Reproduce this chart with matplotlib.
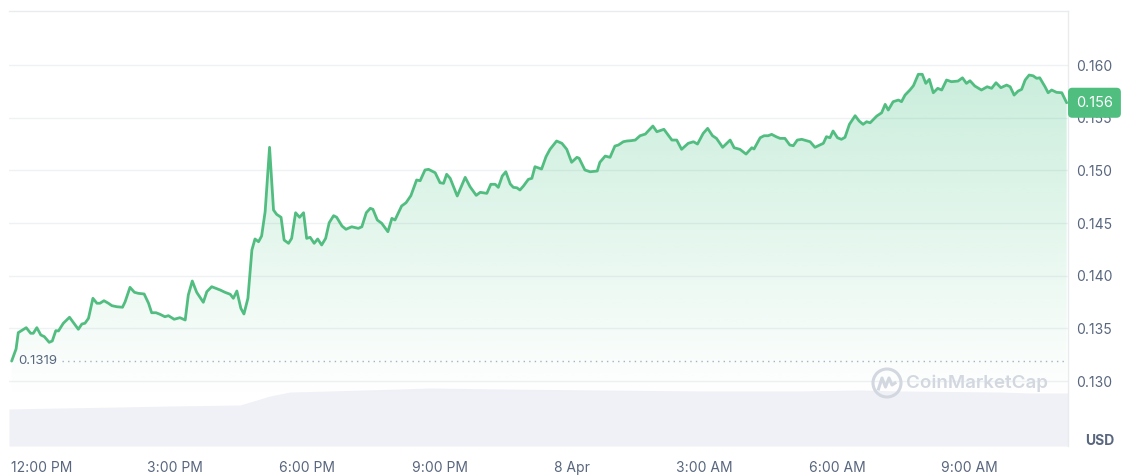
import numpy as np
import matplotlib
matplotlib.use("Agg")
import matplotlib.pyplot as plt
from matplotlib.patches import PathPatch, Circle
from matplotlib.lines import Line2D
from matplotlib.transforms import blended_transform_factory

plt.rcParams['font.family'] = ['Inter', 'DejaVu Sans']

# ---- data (hours relative to 12:00 PM, 7 Apr) ----
hours = [-0.69, -0.59, -0.54, -0.36, -0.26, -0.20, -0.12, -0.03, 0.05, 0.16,
         0.23, 0.31, 0.37, 0.48, 0.62, 0.72, 0.82, 0.90, 0.97, 1.05,
         1.15, 1.24, 1.31, 1.40, 1.50, 1.58, 1.69, 1.82, 1.88, 1.99,
         2.09, 2.18, 2.31, 2.41, 2.48, 2.58, 2.67, 2.78, 2.86, 2.99, 3.12,
         3.24, 3.31, 3.40, 3.50, 3.65, 3.73, 3.84, 4.03, 4.14, 4.26,
         4.33, 4.41, 4.50, 4.57, 4.66, 4.75, 4.82, 4.90, 4.97, 5.05,
         5.15, 5.24, 5.31, 5.41, 5.48, 5.58, 5.65, 5.74, 5.83, 5.92,
         5.99, 6.07, 6.16, 6.24, 6.33, 6.42, 6.50, 6.60, 6.67, 6.79, 6.88,
         7.01, 7.16, 7.24, 7.34, 7.43, 7.49, 7.59, 7.69, 7.83, 7.92,
         7.99, 8.14, 8.24, 8.35, 8.48, 8.56, 8.67, 8.75, 8.90, 9.01,
         9.09, 9.16, 9.24, 9.40, 9.58, 9.69, 9.83, 9.92, 10.07, 10.16,
         10.26, 10.33, 10.42, 10.50, 10.60,
         10.67, 10.75, 10.82, 10.90, 11.01, 11.09, 11.16, 11.31, 11.41, 11.50,
         11.65, 11.77, 11.88, 11.99, 12.11, 12.16, 12.29, 12.41, 12.57, 12.63,
         12.75, 12.86, 12.97, 13.05, 13.16, 13.24, 13.33, 13.43, 13.54, 13.66,
         13.73, 13.83, 13.92, 14.08, 14.26, 14.37, 14.48, 14.63, 14.75,
         14.84, 14.97, 15.07, 15.18, 15.27, 15.41, 15.58, 15.67, 15.80, 15.94,
         16.07, 16.12, 16.26, 16.35, 16.44, 16.52, 16.62, 16.71, 16.82, 16.93,
         17.01, 17.10, 17.20, 17.31, 17.39, 17.50, 17.61, 17.69, 17.76, 17.84,
         17.91, 18.01, 18.10, 18.18, 18.28, 18.41, 18.50, 18.59, 18.67, 18.75,
         18.90, 19.01, 19.09, 19.16, 19.27, 19.39, 19.46, 19.54, 19.65, 19.73,
         19.84, 19.93, 20.01, 20.09, 20.18, 20.28, 20.37, 20.48, 20.59, 20.74,
         20.84, 20.93, 21.01, 21.12, 21.27, 21.40, 21.50, 21.60, 21.71, 21.84,
         21.92, 22.01, 22.10, 22.18, 22.26, 22.35, 22.44, 22.52, 22.59, 22.71,
         22.78, 22.86, 22.97, 23.09, 23.20]

price = [0.1319, 0.13305, 0.1346, 0.13507, 0.13454, 0.13454, 0.13507, 0.13438, 0.13422, 0.13368,
         0.13381, 0.13479, 0.13476, 0.13549, 0.13606, 0.13549, 0.13492, 0.13542, 0.13549, 0.13596,
         0.13786, 0.13739, 0.13739, 0.13763, 0.13739, 0.13716, 0.13706, 0.13701, 0.13754, 0.1389,
         0.13843, 0.13833, 0.13827, 0.13739, 0.13649, 0.13649, 0.13634, 0.13611, 0.13621, 0.13587, 0.13602,
         0.1358, 0.13817, 0.1395, 0.13843, 0.13748, 0.13849, 0.13896, 0.13865, 0.13843, 0.13824,
         0.13786, 0.13855, 0.13691, 0.13637, 0.13786, 0.14244, 0.14349, 0.14323, 0.14377, 0.14608,
         0.15219, 0.14624, 0.14583, 0.14555, 0.14339, 0.14308, 0.14355, 0.14598, 0.14555, 0.14598,
         0.14355, 0.14365, 0.14308, 0.14349, 0.14292, 0.14355, 0.14503, 0.1457, 0.14555, 0.14472, 0.14441,
         0.14465, 0.1445, 0.14465, 0.14598, 0.1464, 0.14631, 0.14529, 0.14498, 0.14418, 0.14545,
         0.14529, 0.14662, 0.14693, 0.1476, 0.14909, 0.14902, 0.15004, 0.1501, 0.14978, 0.14883,
         0.14877, 0.14963, 0.14925, 0.14757, 0.14934, 0.14845, 0.14763, 0.14792, 0.14782, 0.14868,
         0.14868, 0.14839, 0.14947, 0.14987, 0.14871,
         0.14839, 0.14835, 0.14814, 0.14852, 0.14915, 0.14925, 0.15035, 0.15013, 0.1513, 0.152,
         0.15279, 0.15257, 0.152, 0.15077, 0.15124, 0.15115, 0.15004, 0.14987, 0.14994, 0.15077,
         0.15136, 0.15124, 0.15231, 0.15241, 0.15272, 0.15279, 0.15282, 0.15288, 0.15329, 0.15345,
         0.15377, 0.15421, 0.15367, 0.1539, 0.15288, 0.15288, 0.152, 0.15257, 0.15272,
         0.1525, 0.15352, 0.15399, 0.15329, 0.15304, 0.15219, 0.15288, 0.15215, 0.152, 0.15155,
         0.15215, 0.15203, 0.1531, 0.15329, 0.15329, 0.15342, 0.1532, 0.15304, 0.15304, 0.15241,
         0.15234, 0.15288, 0.15295, 0.15282, 0.15272, 0.15219, 0.15241, 0.15257, 0.1532, 0.1531,
         0.15374, 0.1531, 0.15295, 0.15314, 0.15437, 0.15519, 0.15469, 0.15437, 0.15462, 0.15452,
         0.15516, 0.15547, 0.15627, 0.15573, 0.15652, 0.15668, 0.15652, 0.15715, 0.15763, 0.15804,
         0.15912, 0.15912, 0.15826, 0.15864, 0.15737, 0.15779, 0.15763, 0.15858, 0.15842, 0.15848,
         0.15879, 0.15826, 0.15851, 0.15801, 0.15763, 0.15794, 0.15779, 0.15832, 0.15785, 0.1581,
         0.15794, 0.15715, 0.15753, 0.15769, 0.15858, 0.15905, 0.15898, 0.15874, 0.15879, 0.15794,
         0.15737, 0.15763, 0.15741, 0.15737, 0.15642]

vol_hours = [-0.75, 0.41, 1.77, 2.90, 4.48, 4.71, 5.16, 5.61, 6.52, 8.10,
             8.78, 10.37, 12.63, 14.90, 17.16, 18.52, 19.42, 21.69, 22.37, 23.23]
vol_24h = [37, 38, 39, 40, 41, 44, 50, 54, 55, 57,
           58, 57, 56, 55, 55, 56, 55, 54, 53, 53]

open_price = 0.1319
last_label = "0.156"
xtick_hours = [0, 3, 6, 9, 12, 15, 18, 21]
xtick_labels = ["12:00 PM", "3:00 PM", "6:00 PM", "9:00 PM", "8 Apr", "3:00 AM", "6:00 AM", "9:00 AM"]
ytick_vals = [0.130, 0.135, 0.140, 0.145, 0.150, 0.155, 0.160]

# ---- figure ----
W, H = 1140, 476
fig = plt.figure(figsize=(W / 100, H / 100), dpi=100)
ax_l, ax_r, ax_t, ax_b = 9, 1068, 11, 446
rect = [ax_l / W, (H - ax_b) / H, (ax_r - ax_l) / W, (ax_b - ax_t) / H]

# volume axis (behind)
axv = fig.add_axes(rect)
axv.fill_between(vol_hours, vol_24h, 0, color='#f0f1f6', lw=0)
axv.set_xlim(-0.75, 23.23)
axv.set_ylim(0, 435)
axv.axis('off')

ax = fig.add_axes(rect, sharex=axv)
ax.patch.set_alpha(0)
ax.set_xlim(-0.75, 23.23)
ax.set_ylim(0.12384, 0.16513)

line_color = '#52bd80'
for v in ytick_vals:
    ax.axhline(v, color='#eff1f4', lw=1, zorder=0)

# gradient fill
poly = ax.fill_between(hours, price, 0.12384, color='none', lw=0)
path = poly.get_paths()[0]
patch = PathPatch(path, transform=ax.transData, facecolor='none', edgecolor='none')
ax.add_patch(patch)
rgba = np.zeros((256, 1, 4))
col = matplotlib.colors.to_rgb('#3cc07e')
rgba[..., 0], rgba[..., 1], rgba[..., 2] = col
levels = np.linspace(0.16513, 0.12384, 256)
alpha = np.clip((levels - 0.1285) / (0.1600 - 0.1285), 0, 1.1) * 0.28
rgba[..., 3] = alpha.reshape(-1, 1)
im = ax.imshow(rgba, extent=[-0.75, 23.23, 0.12384, 0.16513], aspect='auto',
               origin='upper', zorder=1, interpolation='bilinear')
im.set_clip_path(patch)

ax.plot(hours, price, color=line_color, lw=2.0, zorder=3,
        solid_joinstyle='round', solid_capstyle='round')

# open price dotted line + label
tr = blended_transform_factory(ax.transAxes, ax.transData)
ax.plot([53 / 1059, 1.0], [open_price, open_price], transform=tr,
        color='#a8b1c0', lw=1, ls=(0, (1, 3)), zorder=2)
ax.text(9 / 1059, open_price, f"{open_price:.4f}", transform=tr, ha='left', va='center',
        fontsize=9.5, color='#58667e', zorder=4)

# axes styling
for s in ['left', 'bottom']:
    ax.spines[s].set_visible(False)
for s in ['top', 'right']:
    ax.spines[s].set_color('#e9ebef')
    ax.spines[s].set_linewidth(1)
ax.yaxis.tick_right()
ax.set_yticks(ytick_vals)
ax.set_yticklabels([f"{v:.3f}" for v in ytick_vals])
ax.tick_params(axis='y', length=0, pad=6, labelsize=10, labelcolor='#58667e')
ax.set_xticks(xtick_hours)
ax.set_xticklabels(xtick_labels)
ax.tick_params(axis='x', length=0, pad=11, labelsize=10, labelcolor='#58667e')

# last price badge
ax.text(1 + 8 / 1059, price[-1], last_label, transform=tr, ha='left', va='center',
        fontsize=10.5, color='white', zorder=10, clip_on=False,
        bbox=dict(boxstyle='round,pad=0.55,rounding_size=0.3', fc='#4fbe7f', ec='none'))

# USD label
fig.text(1100 / W, 1 - 441 / H, "USD", ha='center', va='center', fontsize=10,
         fontweight='bold', color='#58667e')

# watermark
wm = '#d3d8e0'
fig.text(906 / W, 1 - 383 / H, "CoinMarketCap", ha='left', va='center',
         fontsize=13.5, color=wm, fontweight='semibold')
cx, cy = 887 / 100, (H - 383) / 100
circ = Circle((cx, cy), 0.14, transform=fig.dpi_scale_trans, fill=False, ec=wm, lw=2.2)
fig.patches.append(circ)
mx = cx + np.array([-0.085, -0.05, -0.015, 0.02, 0.05, 0.08])
my = cy + np.array([-0.06, 0.05, -0.04, 0.05, -0.02, 0.0])
fig.lines.append(Line2D(mx, my, transform=fig.dpi_scale_trans,
                        color=wm, lw=2.2, solid_joinstyle='round'))

fig.savefig("out.png", dpi=100)
